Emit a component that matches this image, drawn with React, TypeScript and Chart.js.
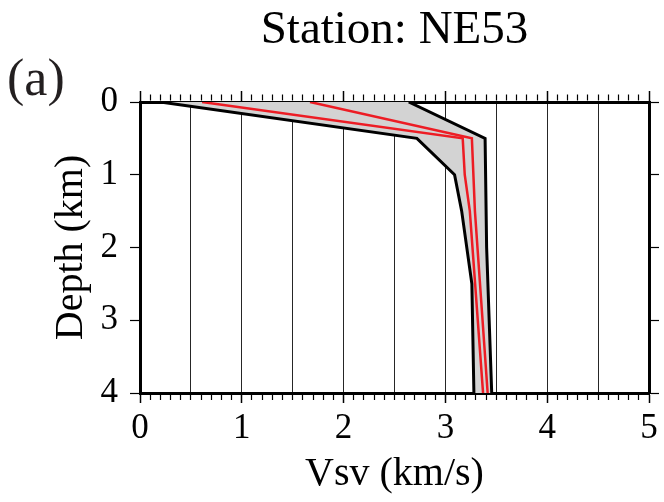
import React, { useEffect, useRef } from 'react';
import { Chart, registerables } from 'chart.js';

Chart.register(...registerables);

// Depth (km) and Vsv (km/s)
const lowerDepth = [0, 0.5, 1.0, 1.5, 2.5, 4.0];
const lowerVsv = [0.2, 2.72, 3.09, 3.16, 3.26, 3.28];

const upperDepth = [0, 0.5, 2.0, 4.0];
const upperVsv = [2.64, 3.39, 3.405, 3.455];

const red1Depth = [0, 0.5, 1.0, 1.5, 4.0];
const red1Vsv = [0.61, 3.17, 3.19, 3.24, 3.37];

const red2Depth = [0, 0.5, 1.5, 4.0];
const red2Vsv = [1.67, 3.26, 3.29, 3.415];

const xMin = 0;
const xMax = 5;
const xMinorStep = 0.1;
const depthMin = 0;
const depthMax = 4;
const depthStep = 1;

const titleText = 'Station: NE53';
const panelLabel = '(a)';
const xTitle = 'Vsv (km/s)';
const yTitle = 'Depth (km)';

const pts = (xs: number[], ys: number[]) => xs.map((x, i) => ({ x, y: ys[i] }));
const isInt = (v: number) => Math.abs(v - Math.round(v)) < 1e-6;
const isHalf = (v: number) => Math.abs(v * 2 - Math.round(v * 2)) < 1e-6;
const tv = (c: any) => (c && c.tick ? c.tick.value : 0);

const FONT = "'Liberation Serif', 'Times New Roman', serif";
const RED = 'rgb(237,28,36)';

export default function App() {
  const ref = useRef<HTMLCanvasElement | null>(null);

  useEffect(() => {
    if (!ref.current) return;
    Chart.defaults.font.family = FONT;
    const chart = new Chart(ref.current, {
      type: 'line',
      data: {
        datasets: [
          {
            data: pts(lowerVsv, lowerDepth),
            borderColor: '#000',
            borderWidth: 3,
            backgroundColor: 'rgb(211,211,211)',
            fill: '+1',
            pointRadius: 0,
            tension: 0,
          },
          {
            data: pts(upperVsv, upperDepth),
            borderColor: '#000',
            borderWidth: 3,
            fill: false,
            pointRadius: 0,
            tension: 0,
          },
          {
            data: pts(red1Vsv, red1Depth),
            borderColor: RED,
            borderWidth: 2.5,
            fill: false,
            pointRadius: 0,
            tension: 0,
          },
          {
            data: pts(red2Vsv, red2Depth),
            borderColor: RED,
            borderWidth: 2.5,
            fill: false,
            pointRadius: 0,
            tension: 0,
          },
        ],
      },
      options: {
        animation: false,
        responsive: false,
        indexAxis: 'y',
        layout: { padding: 0 },
        plugins: {
          legend: { display: false },
          tooltip: { enabled: false },
          filler: { drawTime: 'beforeDatasetsDraw' },
          title: { display: false },
        },
        scales: {
          x: {
            type: 'linear',
            position: 'bottom',
            min: xMin,
            max: xMax,
            ticks: {
              stepSize: xMinorStep,
              maxTicksLimit: 200,
              autoSkip: false,
              maxRotation: 0,
              minRotation: 0,
              padding: 5,
              color: '#000',
              font: { size: 35, family: FONT },
              callback: (v: any) => (isInt(Number(v)) ? String(Math.round(Number(v))) : ''),
            },
            grid: {
              drawOnChartArea: true,
              color: (c: any) => {
                const v = tv(c);
                return isHalf(v) && v > xMin + 1e-6 && v < xMax - 1e-6 ? 'rgba(0,0,0,0.85)' : 'rgba(0,0,0,0)';
              },
              lineWidth: 1,
              tickLength: 10,
              tickColor: '#000',
              tickWidth: (c: any) => (isInt(tv(c)) ? 1.5 : 1.2),
              tickBorderDash: (c: any) => (isInt(tv(c)) ? [] : [5, 20]),
              tickBorderDashOffset: 0,
            },
            border: { display: true, color: '#000', width: 3 },
            title: {
              display: true,
              text: xTitle,
              color: '#000',
              font: { size: 40, family: FONT },
              padding: { top: 0, bottom: 4 },
            },
            afterFit: (s: any) => {
              s.height = 109;
            },
          },
          xTop: {
            type: 'linear',
            position: 'top',
            axis: 'x',
            min: xMin,
            max: xMax,
            ticks: {
              stepSize: xMinorStep,
              maxTicksLimit: 200,
              autoSkip: false,
              display: false,
              maxRotation: 0,
            },
            grid: {
              drawOnChartArea: false,
              tickLength: 11,
              tickColor: '#000',
              tickWidth: (c: any) => (isInt(tv(c)) ? 1.5 : 1.2),
              tickBorderDash: (c: any) => (isInt(tv(c)) ? [] : [6, 3.5]),
              tickBorderDashOffset: (c: any) => (isInt(tv(c)) ? 0 : 6),
            },
            border: { display: true, color: '#000', width: 3 },
            title: {
              display: true,
              text: titleText,
              color: '#000',
              font: { size: 47, lineHeight: 1, family: FONT },
              padding: { top: 7, bottom: 0 },
            },
            afterFit: (s: any) => {
              s.height = 102;
            },
          },
          y: {
            type: 'linear',
            position: 'left',
            min: depthMin,
            max: depthMax,
            reverse: true,
            ticks: {
              stepSize: depthStep,
              color: '#000',
              padding: 12,
              font: { size: 35, family: FONT },
            },
            grid: {
              drawOnChartArea: false,
              tickLength: 10,
              tickColor: '#000',
              tickWidth: 1.2,
            },
            border: { display: true, color: '#000', width: 3 },
            title: {
              display: true,
              text: yTitle,
              color: '#000',
              font: { size: 40, family: FONT },
              padding: { top: 47, bottom: 0 },
            },
            afterFit: (s: any) => {
              s.width = 140;
            },
          },
          yRight: {
            type: 'linear',
            position: 'right',
            axis: 'y',
            min: depthMin,
            max: depthMax,
            reverse: true,
            ticks: { stepSize: depthStep, display: false },
            grid: {
              drawOnChartArea: false,
              tickLength: 10,
              tickColor: '#000',
              tickWidth: 1.2,
            },
            border: { display: true, color: '#000', width: 3 },
            afterFit: (s: any) => {
              s.width = 15;
            },
          },
        },
      } as any,
    });
    return () => chart.destroy();
  }, []);

  return (
    <div style={{ position: 'fixed', left: 0, top: 0, width: 664, height: 502, background: '#fff' }}>
      <canvas ref={ref} width={664} height={502} style={{ display: 'block', width: 664, height: 502 }} />
      <div
        style={{
          position: 'absolute',
          left: 7,
          top: 52,
          fontFamily: FONT,
          fontSize: 52,
          lineHeight: 1,
          color: '#231f20',
          whiteSpace: 'nowrap',
        }}
      >
        {panelLabel}
      </div>
    </div>
  );
}
